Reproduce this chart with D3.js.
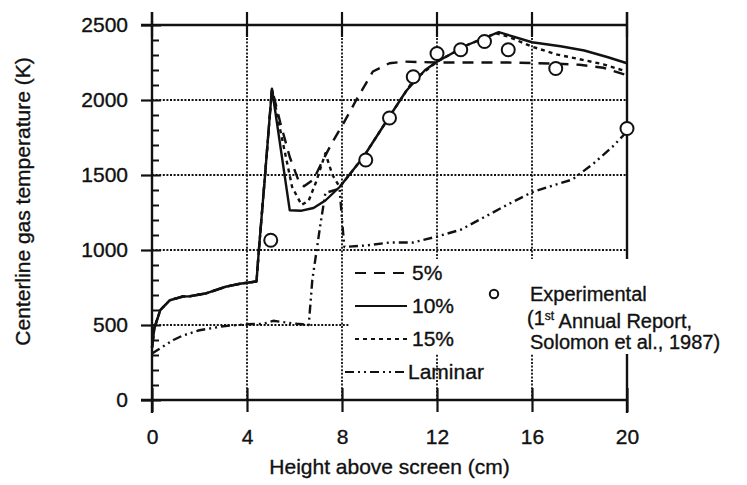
<!DOCTYPE html>
<html>
<head>
<meta charset="utf-8">
<script src="https://cdn.jsdelivr.net/npm/d3@7"></script>
<style>
  html, body { margin: 0; padding: 0; background: #fff; }
  svg text { font-family: "Liberation Sans", Arial, Helvetica, sans-serif; fill: #111;
             stroke: #111; stroke-width: 0.35px; }
</style>
</head>
<body>
<svg id="chart" width="747" height="485"></svg>
<script>
// Centerline gas temperature vs. height above the burner screen
const xTicks = [0, 4, 8, 12, 16, 20];
const yTicks = [0, 500, 1000, 1500, 2000, 2500];

// [height (cm), temperature (K)]
const turb10 = [
  [0, 350], [0.1, 480], [0.35, 600], [0.75, 665], [1.3, 690], [1.6, 692], [2.3, 712],
  [3.1, 755], [3.7, 775], [4.4, 790], [4.5, 1000], [4.75, 1480], [5.05, 2075],
  [5.8, 1265], [6.3, 1262], [6.8, 1280], [7.3, 1330], [7.9, 1420], [8.9, 1620],
  [10.0, 1890], [10.7, 2060], [11.5, 2200], [12.0, 2255], [13.25, 2365], [14.6, 2452],
  [16.0, 2385], [17.2, 2358], [18.2, 2330], [19.2, 2285], [20.0, 2245]
];
const turb5 = [
  [0, 350], [0.1, 480], [0.35, 600], [0.75, 665], [1.3, 690], [1.6, 692], [2.3, 712],
  [3.1, 755], [3.7, 775], [4.4, 790], [4.5, 1000], [4.75, 1480], [5.05, 2075],
  [5.4, 1850], [5.8, 1620], [6.2, 1450], [6.4, 1425], [6.8, 1470], [7.2, 1600],
  [7.6, 1720], [8.06, 1844], [8.6, 2000], [9.3, 2190], [10.0, 2245], [10.6, 2256],
  [12.0, 2250], [15.0, 2250], [17.0, 2242], [18.0, 2235], [19.0, 2215], [20.0, 2165]
];
const turb15 = [
  [0, 350], [0.1, 480], [0.35, 600], [0.75, 665], [1.3, 690], [1.6, 692], [2.3, 712],
  [3.1, 755], [3.7, 775], [4.4, 790], [4.5, 1000], [4.75, 1480], [5.05, 2075],
  [5.4, 1800], [5.9, 1420], [6.3, 1300], [6.6, 1330], [6.9, 1450], [7.3, 1645],
  [7.6, 1500], [7.9, 1420], [8.9, 1620], [10.0, 1890], [11.0, 2130], [12.0, 2255],
  [13.25, 2365], [14.5, 2445], [15.0, 2422], [16.0, 2356], [17.0, 2305], [18.0, 2272],
  [19.0, 2238], [20.0, 2189]
];
const laminar = [
  [0, 310], [0.55, 365], [0.9, 400], [1.3, 430], [2.0, 465], [3.0, 492], [4.0, 505],
  [4.7, 508], [5.1, 528], [6.1, 508], [6.6, 500], [6.75, 800], [7.1, 1180],
  [7.3, 1380], [7.9, 1410], [8.0, 1200], [8.1, 1020], [9.0, 1030], [10.0, 1050],
  [11.0, 1050], [12.0, 1090], [13.0, 1135], [14.0, 1220], [15.0, 1305], [16.0, 1385],
  [17.0, 1436], [17.7, 1470], [18.6, 1578], [19.4, 1690], [20.0, 1790]
];
const experimental = [
  [5, 1065], [9, 1600], [10, 1880], [11, 2155], [12, 2310], [13, 2335],
  [14, 2390], [15, 2335], [17, 2210], [20, 1810]
];

const seriesNames = ["5%", "10%", "15%", "Laminar"];
const expLabel = ["Experimental", "(1st Annual Report,", "Solomon et al., 1987)"];

const svg = d3.select("#chart");
const x = d3.scaleLinear().domain([0, 20]).range([152, 627]);
const y = d3.scaleLinear().domain([0, 2500]).range([400, 25]);
const ink = "#111";

// dotted grid
const grid = svg.append("g").attr("stroke", ink).attr("stroke-width", 1.8)
  .attr("stroke-dasharray", "2,1.6");
grid.selectAll("line.h").data(yTicks.filter(v => v > 0 && v < 2500)).join("line")
  .attr("x1", x(0)).attr("x2", x(20)).attr("y1", d => y(d)).attr("y2", d => y(d));
grid.selectAll("line.v").data(xTicks.filter(v => v > 0 && v < 20)).join("line")
  .attr("y1", y(0)).attr("y2", y(2500)).attr("x1", d => x(d)).attr("x2", d => x(d));

// frame
const frame = svg.append("g").attr("stroke", ink).attr("stroke-width", 2.4);
frame.append("line").attr("x1", x(0)).attr("x2", x(0)).attr("y1", y(2500) - 13).attr("y2", y(0) + 13);
frame.append("line").attr("x1", x(20)).attr("x2", x(20)).attr("y1", y(2500) - 13).attr("y2", y(0) + 13);
frame.append("line").attr("x1", x(0) - 11).attr("x2", x(20)).attr("y1", y(0)).attr("y2", y(0));
frame.append("line").attr("x1", x(0) - 11).attr("x2", x(20)).attr("y1", y(2500)).attr("y2", y(2500));

// axes
const axisFont = "21px";
const left = svg.append("g").attr("transform", `translate(${x(0)},0)`)
  .call(d3.axisLeft(y).tickValues(yTicks).tickFormat(d3.format("d"))
    .tickSize(11).tickPadding(13).tickSizeOuter(0));
left.select(".domain").remove();
left.selectAll(".tick line").attr("stroke", ink).attr("stroke-width", 2.2);
left.selectAll("text").style("font-size", axisFont);

// inward minor ticks every 100 K, majors a bit longer
const minor = d3.range(0, 2501, 100);
svg.append("g").attr("transform", `translate(${x(0)},0)`)
  .call(d3.axisRight(y).tickValues(minor).tickSize(7).tickFormat(""))
  .call(g => g.select(".domain").remove())
  .selectAll(".tick line").attr("stroke", ink).attr("stroke-width", 2)
  .attr("x2", d => (d % 500 === 0 ? 9 : 7));

const bottom = svg.append("g").attr("transform", `translate(0,${y(0)})`)
  .call(d3.axisBottom(x).tickValues(xTicks).tickFormat(d3.format("d"))
    .tickSize(12).tickPadding(17).tickSizeOuter(0));
bottom.select(".domain").remove();
bottom.selectAll(".tick line").attr("stroke", ink).attr("stroke-width", 2.2);
bottom.selectAll("text").style("font-size", axisFont);

svg.append("g").attr("transform", `translate(0,${y(0)})`)
  .call(d3.axisTop(x).tickValues(xTicks).tickSize(12).tickFormat(""))
  .call(g => g.select(".domain").remove())
  .selectAll(".tick line").attr("stroke", ink).attr("stroke-width", 2.2);

// ticks crossing the top edge
svg.append("g").attr("stroke", ink).attr("stroke-width", 2.2)
  .selectAll("line").data(xTicks).join("line")
  .attr("x1", d => x(d)).attr("x2", d => x(d))
  .attr("y1", y(2500) - 13).attr("y2", y(2500) + 12);

// axis titles
svg.append("text").attr("x", (x(0) + x(20)) / 2).attr("y", 474)
  .attr("text-anchor", "middle").style("font-size", axisFont)
  .text("Height above screen (cm)");
svg.append("text").attr("transform", `translate(30,${(y(0) + y(2500)) / 2 - 11}) rotate(-90)`)
  .attr("text-anchor", "middle").style("font-size", axisFont)
  .text("Centerline gas temperature (K)");

// curves
const line = d3.line().x(d => x(d[0])).y(d => y(d[1]));
const styles = {
  "5%": { data: turb5, dash: "11,8" },
  "10%": { data: turb10, dash: null },
  "15%": { data: turb15, dash: "4,4" },
  "Laminar": { data: laminar, dash: "9,4,2,4,2,4" }
};
const curves = svg.append("g").attr("fill", "none").attr("stroke", ink)
  .attr("stroke-width", 2.4).attr("stroke-linejoin", "round");
["Laminar", "15%", "5%", "10%"].forEach(k => {
  curves.append("path").attr("d", line(styles[k].data))
    .attr("stroke-dasharray", styles[k].dash);
});

// experimental points
svg.append("g").attr("fill", "#fff").attr("stroke", ink).attr("stroke-width", 2)
  .selectAll("circle").data(experimental).join("circle")
  .attr("cx", d => x(d[0])).attr("cy", d => y(d[1])).attr("r", 6.5);

// legend
const leg = svg.append("g");
leg.append("rect").attr("x", 349).attr("y", 259).attr("width", 395).attr("height", 95)
  .attr("fill", "#fff");
const legY = [273, 306, 339, 372];
seriesNames.forEach((name, i) => {
  const dash = styles[name].dash;
  const x0 = name === "Laminar" ? 345 : 355;
  const x1 = name === "5%" ? 408 : 407;
  leg.append("line").attr("x1", x0).attr("x2", x1).attr("y1", legY[i]).attr("y2", legY[i])
    .attr("stroke", ink).attr("stroke-width", 2.2).attr("stroke-dasharray", dash);
  leg.append("text").attr("x", name === "Laminar" ? 408 : 412).attr("y", legY[i])
    .attr("dy", "0.35em").style("font-size", axisFont).text(name);
});
leg.append("circle").attr("cx", 494).attr("cy", 294).attr("r", 4.2)
  .attr("fill", "#fff").attr("stroke", ink).attr("stroke-width", 2);
// reference note, one text per line
const expFont = "20px";
const expY = [294, 318, 342];
leg.append("text").attr("x", 530).attr("y", expY[0]).attr("dy", "0.35em")
  .style("font-size", expFont).text(expLabel[0]);
const l2 = leg.append("text").attr("x", 527).attr("y", expY[1]).attr("dy", "0.35em")
  .style("font-size", expFont);
l2.append("tspan").text("(1");
l2.append("tspan").attr("dy", "-0.4em").style("font-size", "12px").text("st");
l2.append("tspan").attr("dy", "0.4em").text(" Annual Report,");
leg.append("text").attr("x", 530).attr("y", expY[2]).attr("dy", "0.35em")
  .style("font-size", expFont).text(expLabel[2]);
</script>
</body>
</html>
